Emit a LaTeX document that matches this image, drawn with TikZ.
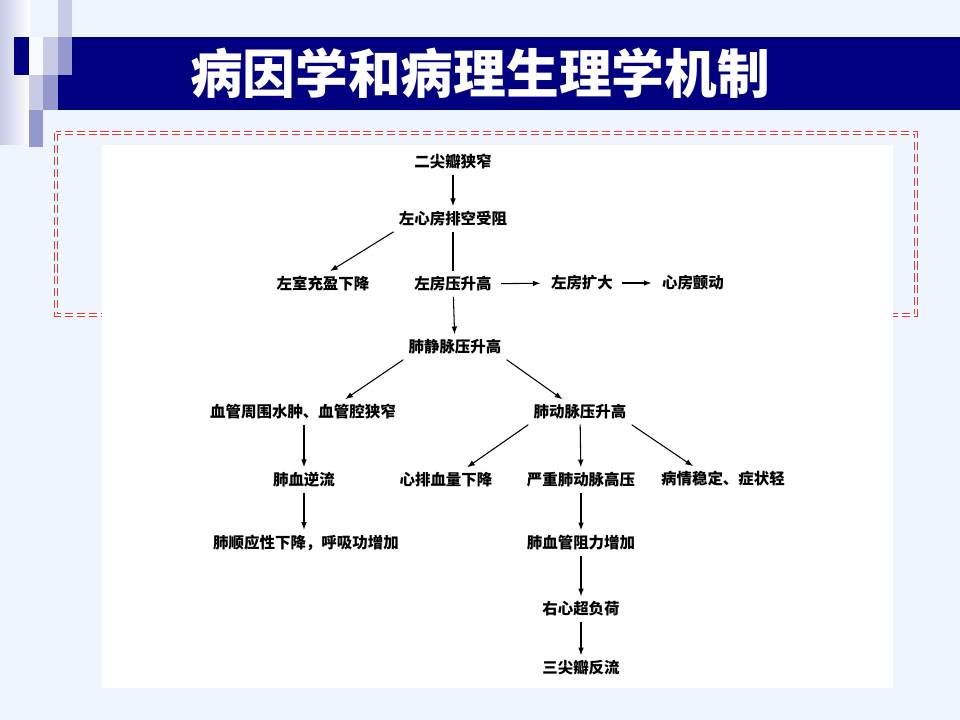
\documentclass[tikz,border=0pt]{standalone}
\usepackage{fontspec}
\usepackage{xcolor}
\usepackage{tikz}
\usetikzlibrary{calc}
\usetikzlibrary{arrows}
\usetikzlibrary{arrows.meta}
\usetikzlibrary{shapes}
\usetikzlibrary{positioning}
\newfontfamily\cjk{Noto Sans CJK SC}
\definecolor{bgblue}{HTML}{EEF5FD}
\definecolor{navy}{HTML}{000080}
\definecolor{lavlight}{HTML}{C8CBE6}
\definecolor{lavmid}{HTML}{9598CC}
\definecolor{dashred}{HTML}{E8343F}
\tikzset{>=latex}
\tikzstyle{box} = [rectangle, draw=none, inner sep=1.3pt, font=\cjk\bfseries\fontsize{4.4pt}{5pt}\selectfont]
\tikzstyle{arr} = [-{Latex[length=2.2pt, width=1.6pt]}, draw = black, line width=0.3pt]
\tikzstyle{ln} = [-, draw = black, line width=0.3pt]

\begin{document}
\begin{tikzpicture}
 \useasboundingbox (0, 0) rectangle (9.6, -7.2);
 \fill [bgblue] (0, 0) rectangle (9.6, -7.2);
 \shade [left color=lavlight, right color=white] (0, 0) rectangle (0.30, -1.45);
 \fill [lavlight] (0.58, 0) rectangle (0.72, -0.37);
 \fill [navy] (0.58, -0.37) rectangle (9.6, -1.10);
 \fill [navy] (0.14, -0.37) rectangle (0.29, -0.75);
 \fill [bgblue!40!white] (0.29, -0.37) rectangle (0.43, -0.75);
 \fill [lavlight] (0.43, -0.37) rectangle (0.58, -0.75);
 \fill [lavmid] (0.58, -0.37) rectangle (0.72, -0.75);
 \fill [lavlight] (0.29, -0.75) rectangle (0.43, -1.10);
 \fill [lavmid] (0.43, -0.75) rectangle (0.58, -1.10);
 \fill [lavmid] (0.29, -1.10) rectangle (0.43, -1.47);
 \node [text=white, font=\cjk\bfseries\fontsize{15pt}{18pt}\selectfont] (T) at (4.80, -0.735) {病因学和病理生理学机制};
 \draw [dashred, line width=0.45pt, double=white, double distance=0.3pt, dash pattern=on 2.3pt off 1.1pt] (0.56, -1.33) rectangle (9.16, -3.15);
 \fill [white] (1.02, -1.45) rectangle (8.93, -6.88);

 \node [box] (MS) at (4.53, -1.62) {二尖瓣狭窄};
 \node [box] (LA) at (4.53, -2.19) {左心房排空受阻};
 \node [box] (LV) at (3.23, -2.84) {左室充盈下降};
 \node [box] (LAP) at (4.53, -2.84) {左房压升高};
 \node [box] (LAE) at (5.82, -2.83) {左房扩大};
 \node [box] (AF) at (6.93, -2.83) {心房颤动};
 \node [box] (PV) at (4.55, -3.47) {肺静脉压升高};
 \node [box] (PE) at (3.03, -4.12) {血管周围水肿、血管腔狭窄};
 \node [box] (PA) at (5.80, -4.12) {肺动脉压升高};
 \node [box] (PR) at (3.04, -4.80) {肺血逆流};
 \node [box] (CO) at (4.46, -4.80) {心排血量下降};
 \node [box] (PH) at (5.81, -4.80) {严重肺动脉高压};
 \node [box] (ST) at (7.23, -4.79) {病情稳定、症状轻};
 \node [box] (PC) at (3.06, -5.43) {肺顺应性下降，呼吸功增加};
 \node [box] (PVR) at (5.81, -5.43) {肺血管阻力增加};
 \node [box] (RV) at (5.81, -6.09) {右心超负荷};
 \node [box] (TR) at (5.81, -6.68) {三尖瓣反流};

 \draw [arr] (MS) to (LA);
 \draw [ln] (LA) to (LAP);
 \draw [arr] (LA.south west) to ([xshift=2pt]LV.north);
 \draw [arr, shorten <=1.2pt, shorten >=1.5pt] (LAP) to (LAE);
 \draw [arr, shorten <=1.2pt, shorten >=1.5pt] (LAE) to (AF);
 \draw [arr] (LAP) to (PV);
 \draw [arr] (PV.south west) to ([xshift=12pt]PE.north);
 \draw [arr] (PV.south east) to ([xshift=-5pt]PA.north);
 \draw [arr] (PE.south -| PR) to (PR);
 \draw [arr] (PA.south west) to ([xshift=6pt]CO.north);
 \draw [arr] (PA) to (PH);
 \draw [arr] (PA.south east) to ([xshift=-8.5pt]ST.north);
 \draw [arr] (PR) to (PR |- PC.north);
 \draw [arr] (PH) to (PVR);
 \draw [arr] (PVR) to (RV);
 \draw [arr] (RV) to (TR);
\end{tikzpicture}
\end{document}
